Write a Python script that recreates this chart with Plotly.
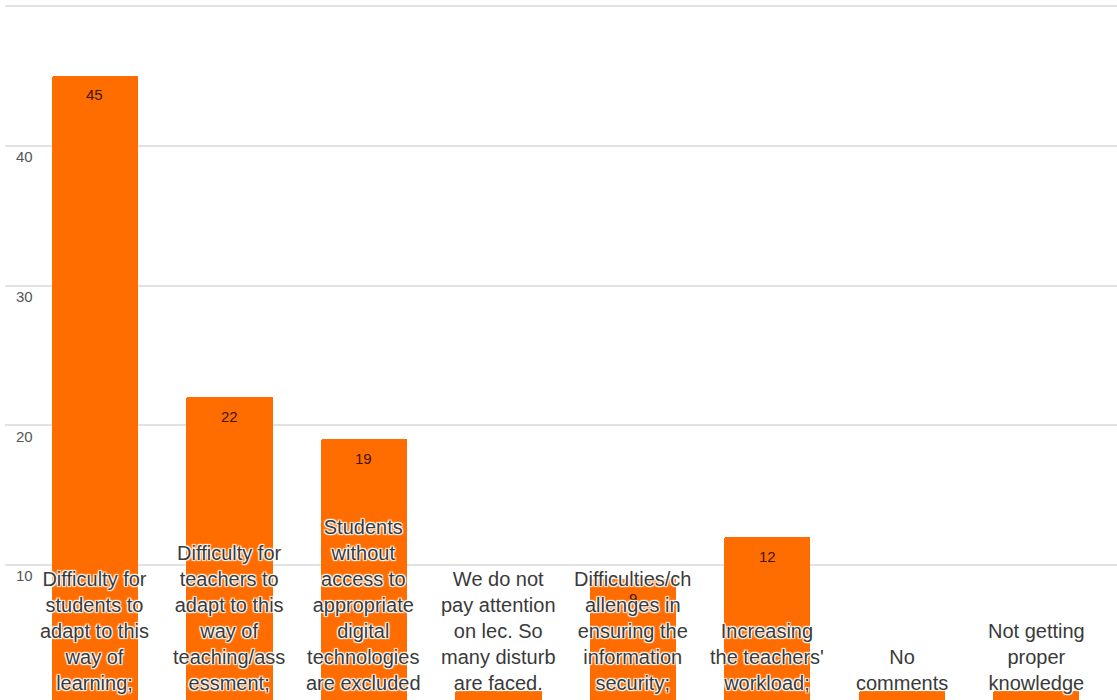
import plotly.graph_objects as go

# Survey responses: challenges of online teaching/learning
categories = [
    "Difficulty for<br>students to<br>adapt to this<br>way of<br>learning;",
    "Difficulty for<br>teachers to<br>adapt to this<br>way of<br>teaching/ass<br>essment;",
    "Students<br>without<br>access to<br>appropriate<br>digital<br>technologies<br>are excluded",
    "We do not<br>pay attention<br>on lec. So<br>many disturb<br>are faced.",
    "Difficulties/ch<br>allenges in<br>ensuring the<br>information<br>security;",
    "Increasing<br>the teachers'<br>workload;",
    "No<br>comments",
    "Not getting<br>proper<br>knowledge",
]
counts = [45, 22, 19, 1, 9, 12, 1, 1]
ytick_vals = [10, 20, 30, 40, 50]
ytick_text = ["10", "20", "30", "40", ""]

positions = list(range(len(categories)))
BAR_COLOR = "#ff6d00"
HALO = ("1px 1px 1px #fff, -1px -1px 1px #fff, 1px -1px 1px #fff, "
        "-1px 1px 1px #fff, 0 0 2px #fff")

fig = go.Figure(
    go.Bar(
        x=positions,
        y=counts,
        width=0.64,
        marker=dict(color=BAR_COLOR, cornerradius=2, line=dict(width=0)),
        hoverinfo="skip",
    )
)

# value labels just inside the top of each bar
for xi, v in zip(positions, counts):
    fig.add_annotation(
        x=xi, y=v, xref="x", yref="y",
        text=str(v), showarrow=False,
        yanchor="middle", yshift=-19,
        font=dict(family="Liberation Sans, Arial, sans-serif", size=15, color="#3d1500"),
    )

# wrapped category names sitting at the foot of each bar
for xi, name in zip(positions, categories):
    fig.add_annotation(
        x=xi, y=0, xref="x", yref="paper",
        text=name, showarrow=False,
        xanchor="center", yanchor="bottom", yshift=4,
        align="center",
        font=dict(family="Liberation Sans, Arial, sans-serif", size=20,
                  color="#3a3a3a", shadow=HALO),
    )

fig.update_layout(
    width=1117, height=700,
    margin=dict(l=5, r=0, t=0, b=0),
    paper_bgcolor="white", plot_bgcolor="white",
    showlegend=False,
    bargap=0,
    xaxis=dict(
        range=[-0.669, 7.599],
        showticklabels=False, showgrid=False, zeroline=False,
        showline=False, ticks="",
    ),
    yaxis=dict(
        range=[0.36, 50.43],
        tickvals=ytick_vals, ticktext=ytick_text,
        showgrid=True, gridcolor="#e2e2e2", gridwidth=2,
        zeroline=False, showline=False, ticks="",
        ticklabelposition="inside", ticklabelstandoff=8, ticklabelshift=11,
        tickfont=dict(family="Liberation Sans, Arial, sans-serif", size=15, color="#555"),
    ),
)

fig.write_html("out.html")
